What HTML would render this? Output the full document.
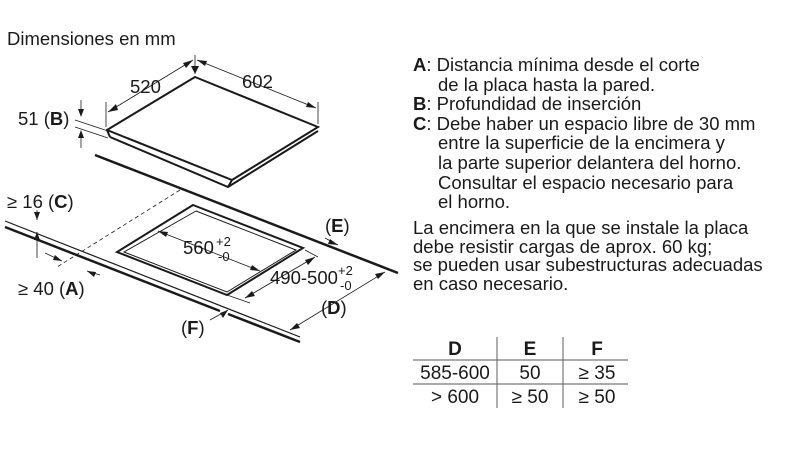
<!DOCTYPE html>
<html><head><style>
body{margin:0;background:#fff;width:800px;height:450px;overflow:hidden;font-family:"Liberation Sans",sans-serif;color:#1a1a1a}
.t{position:absolute;font-size:18.5px;line-height:19.6px;white-space:nowrap}
</style></head><body>
<div class="t" style="left:7px;top:29px">Dimensiones en mm</div>
<div class="t" style="left:413px;top:55px">
<b>A</b>: Distancia mínima desde el corte<br>
<span style="padding-left:25px">de la placa hasta la pared.</span><br>
<b>B</b>: Profundidad de inserción<br>
<b>C</b>: Debe haber un espacio libre de 30 mm<br>
<span style="padding-left:25px">entre la superficie de la encimera y</span><br>
<span style="padding-left:25px">la parte superior delantera del horno.</span><br>
<span style="padding-left:25px">Consultar el espacio necesario para</span><br>
<span style="padding-left:25px">el horno.</span></div>
<div class="t" style="left:413px;top:219px;line-height:18.6px">La encimera en la que se instale la placa<br>debe resistir cargas de aprox. 60 kg;<br>se pueden usar subestructuras adecuadas<br>en caso necesario.</div>
<svg width="800" height="450" style="position:absolute;left:0;top:0" font-family="Liberation Sans, sans-serif" font-size="18.5" fill="#1a1a1a">
<g stroke="#1a1a1a" fill="none">
<polygon points="195,77 318,127 232,180 107,130" stroke-width="2" fill="#fff"/>
<polyline points="110,137 228,187 318,131" stroke-width="2"/>
<line x1="107" y1="130" x2="110" y2="137" stroke-width="2"/>
<line x1="232" y1="180" x2="228" y2="187" stroke-width="2"/>
<line x1="195" y1="55" x2="195" y2="74" stroke-width="0.8"/>
<line x1="106" y1="102" x2="106" y2="127" stroke-width="0.8"/>
<line x1="318" y1="102" x2="318" y2="124" stroke-width="0.8"/>
<line x1="108" y1="112" x2="193" y2="60" stroke-width="0.8"/>
<line x1="197" y1="60" x2="316" y2="108" stroke-width="0.8"/>
<line x1="75" y1="120" x2="105" y2="130" stroke-width="0.8"/>
<line x1="75" y1="127" x2="108" y2="138" stroke-width="0.8"/>
<line x1="81" y1="100" x2="81" y2="115" stroke-width="0.8"/>
<line x1="81" y1="132" x2="81" y2="148" stroke-width="0.8"/>
<line x1="95" y1="155" x2="398" y2="273" stroke-width="2.5"/>
<line x1="5" y1="221" x2="300" y2="337" stroke-width="1.2"/>
<line x1="5" y1="227" x2="220" y2="311" stroke-width="2.5"/>
<line x1="228" y1="314" x2="300" y2="342" stroke-width="2.5"/>
<line x1="180" y1="190" x2="57" y2="267" stroke-width="0.8" stroke-dasharray="4,3"/>
<polygon points="193,205 303,248 227,295 117,252" stroke-width="2"/>
<polygon points="196,211 296,250 227,292 124,252" stroke-width="1"/>
<line x1="158" y1="231" x2="260" y2="271" stroke-width="0.8"/>
<line x1="245" y1="298" x2="315" y2="257" stroke-width="0.8"/>
<line x1="305" y1="250" x2="318" y2="257" stroke-width="0.8"/>
<line x1="227" y1="295" x2="250" y2="303" stroke-width="0.8"/>
<line x1="290" y1="330" x2="385" y2="272" stroke-width="0.8"/>
<line x1="325" y1="238" x2="338" y2="245" stroke-width="0.8"/>
<line x1="37" y1="210" x2="37" y2="220" stroke-width="0.8"/>
<line x1="37" y1="232" x2="37" y2="258" stroke-width="0.8"/>
<line x1="45" y1="253" x2="62" y2="261" stroke-width="0.8"/>
<line x1="87" y1="271" x2="100" y2="275" stroke-width="0.8"/>
<line x1="210" y1="320" x2="228" y2="310" stroke-width="0.8"/>
</g>
<g fill="#1a1a1a">
<polygon points="195,74 191,66 199,66"/>
<polygon points="108,112 116,104 118,110"/>
<polygon points="193,60 183,63 186,68"/>
<polygon points="197,60 207,61 205,66"/>
<polygon points="316,108 306,107 308,102"/>
<polygon points="81,117 78,109 84,109"/>
<polygon points="81,130 78,138 84,138"/>
<polygon points="158,231 168,232 166,237"/>
<polygon points="260,271 250,270 252,265"/>
<polygon points="245,298 252,291 255,296"/>
<polygon points="315,257 305,260 308,265"/>
<polygon points="290,330 297,323 300,328"/>
<polygon points="385,272 375,274 378,279"/>
<polygon points="338,245 328,244 330,239"/>
<polygon points="37,220 34,212 40,212"/>
<polygon points="37,232 34,240 40,240"/>
<polygon points="62,261 53,260 55,255"/>
<polygon points="87,271 96,272 94,277"/>
<polygon points="228,310 220,313 223,318"/>
</g>
<text x="130" y="93">520</text>
<text x="242" y="88">602</text>
<text x="18" y="125">51 (<tspan font-weight="bold">B</tspan>)</text>
<text x="7" y="208">≥ 16 (<tspan font-weight="bold">C</tspan>)</text>
<text x="18" y="295">≥ 40 (<tspan font-weight="bold">A</tspan>)</text>
<text x="183" y="254">560</text><text x="216" y="246" font-size="13">+2</text><text x="218" y="261" font-size="13">-0</text>
<text x="270" y="284">490-500</text><text x="338" y="275" font-size="13">+2</text><text x="340" y="290" font-size="13">-0</text>
<text x="325" y="232">(<tspan font-weight="bold">E</tspan>)</text>
<text x="321" y="314">(<tspan font-weight="bold">D</tspan>)</text>
<text x="181" y="334">(<tspan font-weight="bold">F</tspan>)</text>
<g stroke="#777" stroke-width="1.2">
<line x1="413" y1="360" x2="628" y2="360"/>
<line x1="413" y1="384" x2="628" y2="384"/>
<line x1="497" y1="337" x2="497" y2="408"/>
<line x1="563" y1="337" x2="563" y2="408"/>
</g>
<g text-anchor="middle" font-size="19">
<text x="455" y="355" font-weight="bold">D</text><text x="530" y="355" font-weight="bold">E</text><text x="597" y="355" font-weight="bold">F</text>
<text x="455" y="379">585-600</text><text x="530" y="379">50</text><text x="597" y="379">≥ 35</text>
<text x="455" y="403">&gt; 600</text><text x="530" y="403">≥ 50</text><text x="597" y="403">≥ 50</text>
</g>
</svg>
</body></html>
